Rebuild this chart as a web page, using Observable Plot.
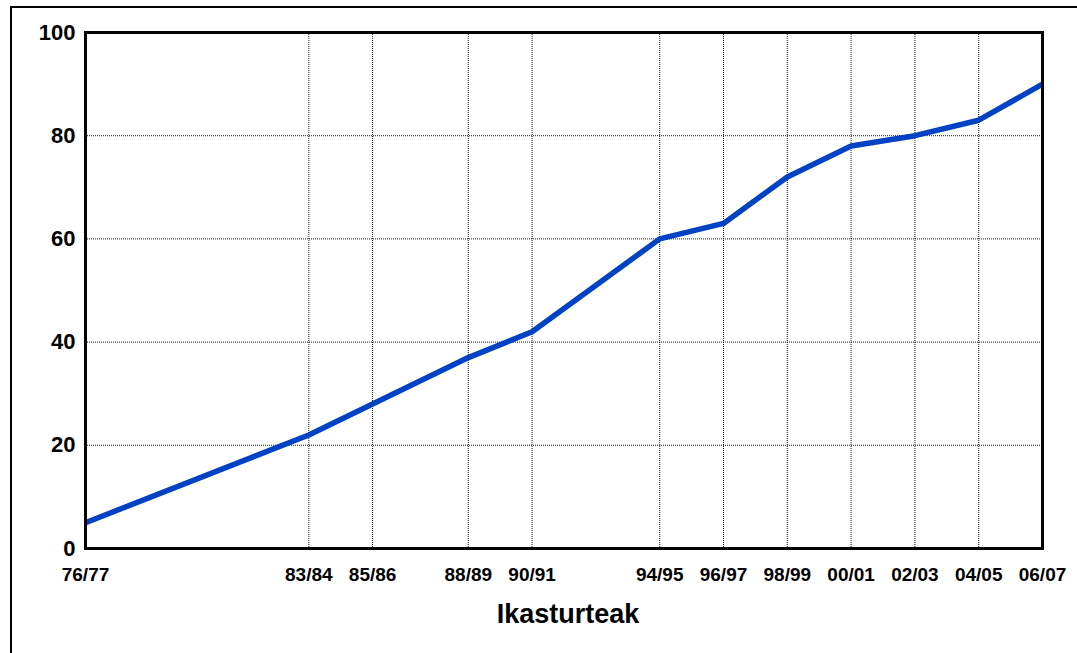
<!DOCTYPE html>
<html>
<head>
<meta charset="utf-8">
<script src="https://cdn.jsdelivr.net/npm/d3@7"></script>
<script src="https://cdn.jsdelivr.net/npm/@observablehq/plot@0.6"></script>
<style>
  html, body { margin: 0; padding: 0; background: #fff; overflow: hidden; }
  #wrap { position: relative; width: 1077px; height: 653px; }
  #border { position: absolute; left: 10px; top: 6px; width: 3000px; height: 3000px;
            border-left: 2px solid #000; border-top: 2px solid #000; pointer-events: none; }
  #chart { position: absolute; left: 0; top: 0; }
  #chart svg { font-family: "Liberation Sans", Arial, sans-serif; }
</style>
</head>
<body>
<div id="wrap"><div id="chart"></div><div id="border"></div></div>
<script>
const seasons = ["76/77","83/84","85/86","88/89","90/91","94/95","96/97","98/99","00/01","02/03","04/05","06/07"];
const startYears = [1976,1983,1985,1988,1990,1994,1996,1998,2000,2002,2004,2006];
const values = [5,22,28,37,42,60,63,72,78,80,83,90];
const yTicks = [0,20,40,60,80,100];
const xTitle = "Ikasturteak";

const data = startYears.map((y, i) => ({year: y, value: values[i], label: seasons[i]}));
const labelOf = new Map(startYears.map((y, i) => [y, seasons[i]]));

const chart = Plot.plot({
  width: 1077,
  height: 653,
  marginLeft: 85,
  marginRight: 35,
  marginTop: 32,
  marginBottom: 105,
  x: {type: "linear", domain: [1976, 2006]},
  y: {domain: [0, 100]},
  marks: [
    Plot.gridX(startYears.slice(1, -1), {stroke: "#000", strokeOpacity: 0.9, strokeDasharray: "1,1"}),
    Plot.gridY(yTicks.slice(1, -1), {stroke: "#000", strokeOpacity: 0.9, strokeDasharray: "1,1"}),
    Plot.line(data, {x: "year", y: "value", stroke: "#0042c4", strokeWidth: 5.5, clip: "frame"}),
    Plot.frame({stroke: "#000", strokeWidth: 3}),
    Plot.axisX(startYears, {tickSize: 0, tickPadding: 19, tickFormat: d => labelOf.get(d),
      fontSize: 19, fontWeight: "bold", fill: "#000", label: null, style: "letter-spacing:0.8px"}),
    Plot.axisY(yTicks, {tickSize: 0, tickPadding: 10, fontSize: 22, fontWeight: "bold",
      fill: "#000", label: null, style: "letter-spacing:1px"}),
    Plot.text([xTitle], {frameAnchor: "bottom", dy: 74, dx: 4, fontSize: 27, fontWeight: "bold", fill: "#000"})
  ]
});
document.getElementById("chart").appendChild(chart);
</script>
</body>
</html>
